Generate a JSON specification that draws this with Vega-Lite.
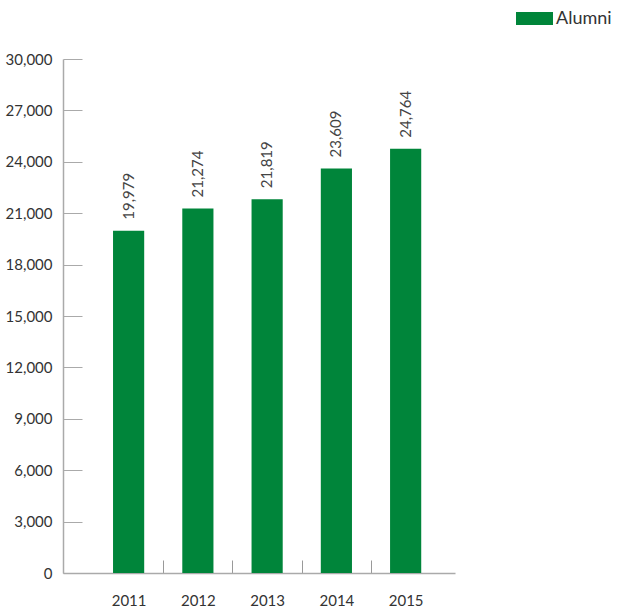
{
  "$schema": "https://vega.github.io/schema/vega-lite/v6.json",
  "width": 392,
  "height": 514,
  "autosize": {"type": "none"},
  "padding": {"left": 63, "top": 59, "right": 162, "bottom": 38},
  "background": "white",
  "config": {"view": {"stroke": null}, "font": "Lato"},
  "data": {
    "values": [
      {"year": "2011", "alumni": 19979, "series": "Alumni"},
      {"year": "2012", "alumni": 21274, "series": "Alumni"},
      {"year": "2013", "alumni": 21819, "series": "Alumni"},
      {"year": "2014", "alumni": 23609, "series": "Alumni"},
      {"year": "2015", "alumni": 24764, "series": "Alumni"}
    ]
  },
  "encoding": {
    "x": {
      "field": "year",
      "type": "ordinal",
      "scale": {"paddingInner": 0.55, "paddingOuter": 0.605, "align": 0.597},
      "axis": {
        "title": null,
        "labelAngle": 0,
        "labelFontSize": 15,
        "labelColor": "#333333",
        "labelPadding": 33,
        "labelOffset": -34.6,
        "domainColor": "#aaaaaa",
        "domainWidth": 1.5,
        "tickColor": "#999999",
        "tickWidth": 1,
        "tickSize": -13,
        "tickOffset": 34.6,
        "tickOpacity": {"condition": {"test": "datum.label == '2015'", "value": 0}, "value": 1}
      }
    }
  },
  "layer": [
    {
      "mark": {"type": "bar"},
      "encoding": {
        "y": {
          "field": "alumni",
          "type": "quantitative",
          "scale": {"domain": [0, 30000], "nice": false},
          "axis": {
            "title": null,
            "values": [0, 3000, 6000, 9000, 12000, 15000, 18000, 21000, 24000, 27000, 30000],
            "format": ",d",
            "grid": false,
            "labelFontSize": 15,
            "labelColor": "#333333",
            "labelPadding": 30,
            "domainColor": "#aaaaaa",
            "domainWidth": 1.5,
            "tickColor": "#aaaaaa",
            "tickSize": -19
          }
        },
        "color": {
          "field": "series",
          "type": "nominal",
          "scale": {"range": ["#00853a"]},
          "legend": {
            "title": null,
            "orient": "none",
            "legendX": 453,
            "legendY": -59,
            "padding": 0,
            "symbolType": "M-1,-0.35H1V0.35H-1Z",
            "symbolSize": 1369,
            "symbolStrokeWidth": 0,
            "symbolOpacity": 1,
            "labelFontSize": 18,
            "labelColor": "#333333",
            "labelOffset": 3
          }
        }
      }
    },
    {
      "mark": {"type": "text", "angle": 270, "align": "left", "baseline": "middle", "dx": 11, "fontSize": 15, "color": "#444444"},
      "encoding": {
        "y": {"field": "alumni", "type": "quantitative"},
        "text": {"field": "alumni", "type": "quantitative", "format": ",d"}
      }
    }
  ]
}
